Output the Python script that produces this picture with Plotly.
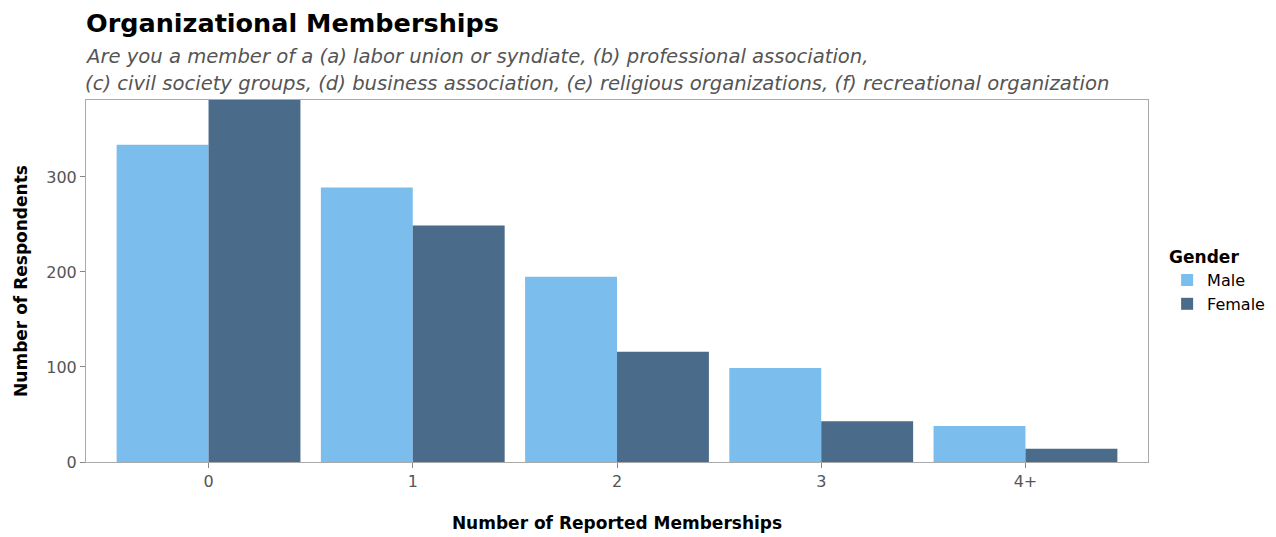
import plotly.graph_objects as go

categories = ["0", "1", "2", "3", "4+"]
male = [334, 289, 195, 99, 38]
female = [381, 249, 116, 43, 14]

MALE_C = "#7bbdec"
FEMALE_C = "#4a6b89"
FONT = "DejaVu Sans"

fig = go.Figure()
fig.add_trace(go.Bar(x=categories, y=male, name="Male", marker=dict(color=MALE_C, line=dict(width=0))))
fig.add_trace(go.Bar(x=categories, y=female, name="Female", marker=dict(color=FEMALE_C, line=dict(width=0))))

# page body has an 8px margin; figure sized/offset to compensate
fig.update_layout(
    width=1268, height=529,
    margin=dict(l=78, r=128, t=92, b=75, autoexpand=False),
    paper_bgcolor="white", plot_bgcolor="white",
    barmode="group", bargap=0.1, bargroupgap=0,
    font=dict(family=FONT, color="#333333"),
    showlegend=True,
    legend=dict(
        title=dict(text="<b>Gender</b>", font=dict(size=17, color="black", family=FONT)),
        font=dict(size=16, color="black", family=FONT),
        x=1.018, xanchor="left", y=0.5, yanchor="middle",
        itemsizing="constant", tracegroupgap=0,
    ),
    xaxis=dict(
        range=[-0.6, 4.6], showgrid=False, zeroline=False, automargin=False,
        showline=True, linecolor="#aaaaaa", linewidth=1, mirror=True,
        ticks="outside", ticklen=5, tickcolor="#888888",
        tickfont=dict(size=16, color="#555555", family=FONT),
        title=dict(text="<b>Number of Reported Memberships</b>", font=dict(size=17, color="black", family=FONT), standoff=26),
    ),
    yaxis=dict(
        range=[0, 381], showgrid=False, zeroline=False, automargin=False,
        showline=True, linecolor="#aaaaaa", linewidth=1, mirror=True,
        ticks="outside", ticklen=5, tickcolor="#888888",
        tickvals=[0, 100, 200, 300],
        tickfont=dict(size=16, color="#555555", family=FONT),
        title=dict(text="<b>Number of Respondents</b>", font=dict(size=17, color="black", family=FONT), standoff=14),
    ),
)

fig.add_annotation(text="<b>Organizational Memberships</b>", xref="paper", yref="paper",
                   x=0, y=1, xanchor="left", yanchor="middle", yshift=77, xshift=-2,
                   showarrow=False, font=dict(size=25.5, color="black", family=FONT))
fig.add_annotation(text="<i>Are you a member of a (a) labor union or syndiate, (b) professional association,</i>",
                   xref="paper", yref="paper", x=0, y=1, xanchor="left", yanchor="middle", yshift=44, xshift=-3,
                   align="left", showarrow=False, font=dict(size=19.6, color="#555555", family=FONT))
fig.add_annotation(text="<i>(c) civil society groups, (d) business association, (e) religious organizations, (f) recreational organization</i>",
                   xref="paper", yref="paper", x=0, y=1, xanchor="left", yanchor="middle", yshift=17, xshift=-3,
                   align="left", showarrow=False, font=dict(size=19.6, color="#555555", family=FONT))

fig.write_html("out.html")
